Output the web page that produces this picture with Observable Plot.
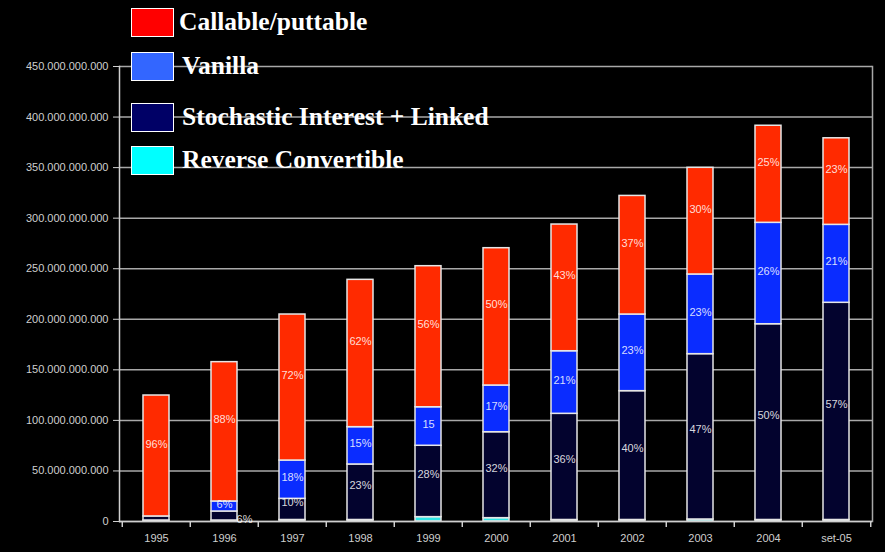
<!DOCTYPE html>
<html>
<head>
<meta charset="utf-8">
<script src="https://cdn.jsdelivr.net/npm/d3@7"></script>
<script src="https://cdn.jsdelivr.net/npm/@observablehq/plot@0.6"></script>
<style>
  html, body { margin: 0; padding: 0; background: #000; }
  #wrap { position: relative; width: 885px; height: 552px; background: #000; overflow: hidden; }
  #legend { position: absolute; left: 0; top: 0; }
  .item { position: absolute; left: 131px; display: flex; align-items: center; }
  .sw { width: 41px; height: 27px; border: 1px solid #fff; }
  .lab { font-family: "Liberation Serif", "Times New Roman", serif; font-weight: bold; font-size: 25.5px; color: #fff; margin-left: 5px; white-space: nowrap; }
</style>
</head>
<body>
<div id="wrap"><div id="chart"></div><div id="legend"></div></div>
<script>
// Categories (years)
const years = ["1995","1996","1997","1998","1999","2000","2001","2002","2003","2004","set-05"];
// Series values, in billions (1e9)
const reverseConvertible = [1, 1, 1.5, 1.5, 4.3, 3.3, 1.5, 1.5, 2, 1.5, 1.5];
const stochasticLinked   = [4, 8.9, 20.9, 54.9, 70.6, 85, 105, 127.4, 163.5, 193.6, 214.8];
const vanilla            = [0, 9.9, 37.9, 36.9, 38.1, 46.2, 61.9, 75.8, 78.8, 100.3, 77.1];
const callablePuttable   = [119.6, 137.8, 144.4, 145.7, 139.5, 135.8, 125.3, 117.3, 105.5, 96, 85.6];
// Data labels shown on the segments
const stochLabels    = ["", "6%", "10%", "23%", "28%", "32%", "36%", "40%", "47%", "50%", "57%"];
const vanillaLabels  = ["", "6%", "18%", "15%", "15", "17%", "21%", "23%", "23%", "26%", "21%"];
const callableLabels = ["96%", "88%", "72%", "62%", "56%", "50%", "43%", "37%", "30%", "25%", "23%"];
// Series names and colours
const seriesNames = ["Reverse Convertible", "Stochastic Interest + Linked", "Vanilla", "Callable/puttable"];
const barColors    = ["#2ee6e6", "#03032e", "#0a2cff", "#ff2a00"];
const legendColors = ["#00ffff", "#000066", "#3366ff", "#ff0000"];
// Y tick values, in billions
const yTicks = [0, 50, 100, 150, 200, 250, 300, 350, 400, 450];

const seriesValues = [reverseConvertible, stochasticLinked, vanilla, callablePuttable];
const seriesLabels = [years.map(() => ""), stochLabels, vanillaLabels, callableLabels];

const table = [];
seriesNames.forEach((s, si) => {
  years.forEach((y, i) => {
    table.push({year: y, series: s, value: seriesValues[si][i], label: seriesLabels[si][i]});
  });
});

const W = 885, H = 552, mL = 119, mR = 13, mT = 66, mB = 31;
const step = (W - mL - mR) / years.length;
const fmt = d => d3.format(",")(d * 1e9).replace(/,/g, ".");

const stack = opts => Plot.stackY({x: "year", y: "value", z: "series", ...opts});

const labelMark = (test, dy, dx = 0) =>
  Plot.text(table, stack({
    text: d => (test(d) ? d.label : ""),
    fill: "#fff", fillOpacity: 0.85, fontSize: 11,
    fontFamily: "Liberation Sans, Arial, sans-serif", dy, dx
  }));

const STO = "Stochastic Interest + Linked";

const chart = Plot.plot({
  width: W, height: H,
  marginLeft: mL, marginRight: mR, marginTop: mT, marginBottom: mB,
  style: {background: "#000", color: "#ccc", fontFamily: "Liberation Sans, Arial, sans-serif", fontSize: "11px"},
  x: {domain: years, paddingInner: 0.62, paddingOuter: 0.31, label: null},
  y: {domain: [0, 450], label: null},
  color: {domain: seriesNames, range: barColors},
  marks: [
    Plot.gridY(yTicks, {stroke: "#a8a8a8", strokeOpacity: 1, strokeWidth: 1.5}),
    Plot.frame({anchor: "right", stroke: "#a8a8a8", strokeWidth: 1.5}),
    Plot.barY(table, stack({fill: "series", stroke: "#e6e6e6", strokeWidth: 1.5})),
    Plot.frame({anchor: "left", stroke: "#cfcfcf", strokeWidth: 1.5}),
    Plot.ruleY([0], {stroke: "#cfcfcf", strokeWidth: 1.5}),
    // category boundary ticks on the x axis
    Plot.ruleX(years, {x: d => d, dx: -step / 2, y1: 0, y2: 0, insetBottom: -6, stroke: "#cfcfcf", strokeWidth: 1.5}),
    Plot.ruleX(years.slice(-1), {x: d => d, dx: step / 2, y1: 0, y2: 0, insetBottom: -6, stroke: "#cfcfcf", strokeWidth: 1.5}),
    Plot.axisY(yTicks, {tickSize: 6, tickPadding: 5, tickFormat: fmt, stroke: "#cfcfcf", fill: "#cfcfcf", label: null}),
    Plot.axisX({tickSize: 0, tickPadding: 13, fill: "#cfcfcf", label: null}),
    labelMark(d => d.series === "Callable/puttable", -12),
    labelMark(d => d.series === "Vanilla", -2),
    labelMark(d => d.series === STO && d.year !== "1996", -7),
    labelMark(d => d.series === STO && d.year === "1996", 3, 20)
  ]
});
document.getElementById("chart").appendChild(chart);

// Legend (top to bottom order as in the reference)
const legendOrder = [3, 2, 1, 0];
const legendTops = [7, 51, 102, 145];
const legend = document.getElementById("legend");
legendOrder.forEach((si, k) => {
  const item = document.createElement("div");
  item.className = "item";
  item.style.top = legendTops[k] + "px";
  const sw = document.createElement("div");
  sw.className = "sw";
  sw.style.background = legendColors[si];
  const lab = document.createElement("div");
  lab.className = "lab";
  lab.textContent = seriesNames[si];
  if (k > 0) lab.style.marginLeft = "8px";
  item.appendChild(sw);
  item.appendChild(lab);
  legend.appendChild(item);
});
</script>
</body>
</html>
